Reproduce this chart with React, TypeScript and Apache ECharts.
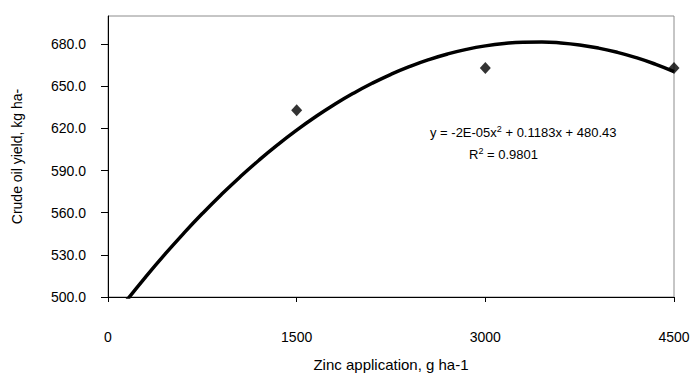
import React, { useEffect, useRef } from "react";
import * as echarts from "echarts";

// Observed data points (zinc application g/ha, crude oil yield kg/ha)
const zincRates = [1500, 3000, 4500];
const oilYields = [633, 663, 663];

// Polynomial trendline coefficients (as fitted; label shows rounded value)
const trendA = -1.74e-5;
const trendB = 0.1183;
const trendC = 480.43;
const trendXs = [0, 150, 300, 450, 600, 750, 900, 1050, 1200, 1350, 1500, 1650, 1800, 1950, 2100, 2250, 2400, 2550, 2700, 2850, 3000, 3150, 3300, 3450, 3600, 3750, 3900, 4050, 4200, 4350, 4500];

// Axis ticks
const yTicks = [500, 530, 560, 590, 620, 650, 680];

const FONT = '"Liberation Sans Narrow", "Liberation Sans", Arial, sans-serif';

export default function App() {
  const ref = useRef<HTMLDivElement>(null);
  useEffect(() => {
    if (!ref.current) return;
    const chart = echarts.init(ref.current, undefined, { renderer: "svg" });
    const trend = trendXs.map((x) => [x, trendA * x * x + trendB * x + trendC]);
    chart.setOption({
      animation: false,
      grid: { left: 108, top: 16, right: 19, bottom: 84, show: true, borderColor: "#8c8c8c", borderWidth: 1 },
      xAxis: {
        type: "value",
        min: 0,
        max: 4500,
        interval: 1500,
        name: "Zinc application, g ha-1",
        nameLocation: "middle",
        nameGap: 60,
        nameTextStyle: { fontFamily: FONT, fontSize: 15, color: "#000" },
        axisLine: { onZero: false, lineStyle: { color: "#000", width: 1 } },
        axisTick: { show: true, length: 5, inside: false, lineStyle: { color: "#000", width: 1 } },
        axisLabel: { margin: 33, fontFamily: FONT, fontSize: 14, color: "#000", formatter: (v: number) => String(v) },
        splitLine: { show: false },
      },
      yAxis: {
        type: "value",
        min: 500,
        max: 700,
        name: "Crude oil yield, kg ha-",
        nameLocation: "middle",
        nameGap: 84,
        nameTextStyle: { fontFamily: FONT, fontSize: 14, color: "#000" },
        axisLine: { show: true, onZero: false, lineStyle: { color: "#000", width: 1 } },
        axisTick: { show: true, length: 7, lineStyle: { color: "#000", width: 1 }, customValues: yTicks },
        axisLabel: {
          customValues: yTicks,
          margin: 22,
          fontFamily: FONT,
          fontSize: 14,
          color: "#000",
          formatter: (v: number) => v.toFixed(1),
        },
        splitLine: { show: false },
      },
      series: [
        {
          type: "line",
          data: trend,
          showSymbol: false,
          smooth: true,
          clip: true,
          lineStyle: { color: "#000", width: 3.5 },
          silent: true,
          z: 2,
        },
        {
          type: "scatter",
          data: zincRates.map((x, i) => [x, oilYields[i]]),
          symbol: "diamond",
          symbolSize: [11, 12],
          itemStyle: { color: "#000" },
          clip: false,
          z: 3,
        },
      ],
      graphic: [
        {
          type: "text",
          left: 430,
          top: 124,
          style: {
            text: "y = -2E-05x{sup|2} + 0.1183x + 480.43",
            fontFamily: FONT,
            fontSize: 13,
            fill: "#000",
            rich: { sup: { fontSize: 9, padding: [0, 0, 8, 0], fontFamily: FONT } },
          },
        },
        {
          type: "text",
          left: 469,
          top: 146,
          style: {
            text: "R{sup|2} = 0.9801",
            fontFamily: FONT,
            fontSize: 13,
            fill: "#000",
            rich: { sup: { fontSize: 9, padding: [0, 0, 8, 0], fontFamily: FONT } },
          },
        },
      ],
    });
    return () => chart.dispose();
  }, []);
  return <div ref={ref} style={{ width: 693, height: 381, position: "absolute", left: 0, top: 0 }} />;
}
